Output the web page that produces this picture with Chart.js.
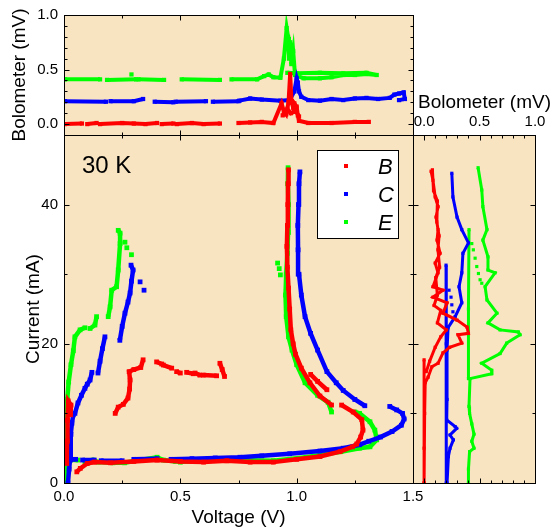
<!DOCTYPE html>
<html>
<head>
<meta charset="utf-8">
<script src="https://cdn.jsdelivr.net/npm/chart.js@4.4.1/dist/chart.umd.min.js"></script>
<style>
  body { margin: 0; background: #fff; }
  #wrap { position: relative; width: 558px; height: 531px; }
  canvas { position: absolute; left: 0; top: 0; }
</style>
</head>
<body>
<div id="wrap">
  <canvas id="topChart" width="558" height="531"></canvas>
  <canvas id="mainChart" width="558" height="531"></canvas>
  <canvas id="sideChart" width="558" height="531"></canvas>
</div>
<script>
// samples
const sampleNames = ['B', 'C', 'E'];

// main panel: voltage (V), current (mA); null = gap in the trace
const ivB = [
  [0.012, 2.8], [0.013, 6.0], [0.015, 9.0], [0.018, 11.8], [0.03, 11.2], [0.028, 9.8], null,
  [0.055, 1.6], [0.07, 2.1], [0.1, 2.8], [0.13, 3.0], [0.2, 2.9], [0.3, 3.1], [0.4, 3.3], [0.5, 3.1],
  [0.6, 3.0], [0.7, 3.2], [0.8, 3.0], [0.9, 3.0], [1.0, 3.4], [1.1, 3.8], [1.186, 4.5], [1.24, 5.2],
  [1.258, 5.6], [1.275, 6.6], [1.285, 7.6], [1.28, 9.1], [1.243, 10.2], [1.193, 11.2], null,
  [1.15, 11.2], [1.10, 12.5], [1.057, 14.4], [1.02, 16.5], [0.995, 18.5], [0.985, 20.0], [0.975, 22.0],
  [0.97, 25.0], [0.965, 28.0], [0.96, 31.0], [0.958, 34.0], [0.96, 37.0], [0.962, 40.0], [0.963, 43.0], [0.965, 45.0], null,
  [1.13, 13.4], [1.09, 14.6], [1.06, 15.6], null,
  [0.22, 10.0], [0.233, 10.9], [0.255, 11.3], [0.275, 12.2], [0.282, 13.5], [0.284, 14.8], [0.28, 16.0],
  [0.3, 16.3], [0.33, 16.6], [0.34, 17.7], null,
  [0.398, 17.4], [0.42, 17.1], null, [0.427, 16.95], [0.463, 16.5], null, [0.484, 16.0], [0.5, 15.8], null,
  [0.527, 15.9], [0.556, 15.7], null, [0.563, 15.8], [0.584, 15.5], null, [0.599, 15.5], [0.656, 15.4], null,
  [0.67, 17.2], [0.68, 16.3], [0.69, 15.3]
];
const ivC = [
  [0.017, 0.0], [0.022, 2.0], [0.026, 3.3], [0.028, 5.0], [0.03, 7.0], [0.034, 8.6], [0.04, 9.8], null,
  [0.047, 10.0], [0.06, 11.5], [0.075, 12.6], [0.09, 13.6], [0.1, 14.2], [0.112, 14.8], [0.12, 15.9], null,
  [0.146, 15.8], [0.155, 17.5], [0.165, 19.3], [0.176, 21.0], null,
  [0.24, 20.5], [0.25, 22.5], [0.262, 24.4], [0.275, 26.0], [0.284, 27.3], [0.29, 29.0], [0.297, 30.6], [0.288, 31.3], null,
  [0.327, 28.9], null, [0.344, 27.7], null,
  [0.01, 3.4], [0.05, 3.4], null, [0.08, 3.3], [0.13, 3.3], null, [0.16, 3.2], [0.25, 3.2], null, [0.3, 3.4], [0.4, 3.5], null,
  [0.46, 3.4], [0.55, 3.5], [0.65, 3.6], [0.756, 3.7], [0.85, 3.9], [0.97, 4.2], [1.1, 4.6], [1.2, 5.0],
  [1.27, 5.5], [1.31, 6.0], [1.36, 6.6], [1.41, 7.4], [1.45, 8.3], [1.462, 9.2], [1.455, 10.0], [1.43, 10.5], [1.40, 11.0], null,
  [1.293, 11.1], [1.25, 12.0], [1.2, 13.3], [1.17, 14.4], [1.13, 16.0], [1.09, 19.1], [1.06, 21.5], [1.036, 23.9],
  [1.02, 27.0], [1.01, 30.0], [1.006, 33.5], [1.005, 37.0], [1.008, 40.0], [1.01, 43.0], [1.014, 44.7]
];
const ivE = [
  [0.005, 0.0], [0.008, 3.0], [0.01, 6.0], [0.012, 9.0], [0.014, 12.0], [0.02, 14.5], [0.03, 17.0], [0.04, 19.0],
  [0.047, 21.0], [0.069, 22.0], [0.09, 22.3], null,
  [0.112, 22.2], [0.133, 22.7], [0.14, 23.9], null,
  [0.19, 23.9], [0.198, 25.3], [0.205, 27.7], [0.226, 28.2], [0.233, 30.6], [0.241, 34.4], [0.241, 35.9], [0.233, 36.3], null,
  [0.262, 34.6], null, [0.27, 33.8], null, [0.29, 32.8], null,
  [0.02, 3.3], [0.06, 3.3], null,
  [0.09, 3.0], [0.125, 3.3], [0.147, 3.0], [0.21, 2.9], [0.26, 2.9], [0.327, 3.3], [0.4, 3.7], [0.427, 3.3], [0.48, 3.1], null,
  [0.5, 3.0], [0.614, 3.3], [0.68, 3.3], null, [0.727, 3.3], [0.9, 3.2], [1.04, 3.7], [1.19, 4.5], [1.27, 5.0],
  [1.315, 5.2], [1.344, 6.2], [1.336, 7.6], [1.315, 8.8], [1.27, 10.0], [1.25, 10.2], null,
  [1.15, 10.2], [1.135, 11.6], [1.09, 12.6], [1.036, 14.4], [1.0, 17.0], [0.98, 19.1], [0.965, 21.0], [0.955, 23.9],
  [0.952, 27.0], [0.955, 30.0], [0.96, 33.0], [0.963, 36.0], [0.965, 40.0], [0.962, 43.0], [0.963, 45.3], null,
  [0.918, 31.6], null, [0.925, 30.8], null, [0.93, 29.9]
];

// top panel: voltage (V), bolometer (mV)
const bvB = [
  [0.004, 0.0], [0.077, 0.005], null, [0.1, 0.0], [0.14, 0.01], null, [0.155, 0.0], [0.25, 0.01], [0.3, 0.005],
  [0.35, 0.0], [0.4, 0.01], null, [0.42, 0.0], [0.47, 0.005], null, [0.485, 0.0], [0.55, 0.01], [0.6, 0.0], [0.67, 0.005], null,
  [0.75, 0.01], [0.8, 0.015], [0.85, 0.02], [0.9, 0.01], [0.935, 0.19], [0.945, 0.12], [0.955, 0.09], [0.965, 0.2],
  [0.972, 0.46], [0.978, 0.2], [0.985, 0.15], [0.99, 0.19], [1.0, 0.16], [1.005, 0.08], [1.01, 0.03], [1.05, 0.01],
  [1.15, 0.01], [1.25, 0.02], [1.31, 0.02], null,
  [0.94, 0.08], [0.96, 0.14], [0.975, 0.1], [0.995, 0.12], [1.01, 0.07]
];
const bvC = [
  [0.004, 0.21], [0.18, 0.205], null, [0.2, 0.21], [0.3, 0.21], [0.34, 0.23], null, [0.39, 0.205], [0.47, 0.2], null,
  [0.48, 0.205], [0.61, 0.21], null, [0.64, 0.205], [0.75, 0.21], null,
  [0.754, 0.215], [0.8, 0.235], [0.85, 0.225], [0.93, 0.215], [0.97, 0.22], [0.99, 0.3], [1.0, 0.42], [1.005, 0.38],
  [1.01, 0.3], [1.02, 0.25], [1.05, 0.22], [1.1, 0.215], [1.15, 0.23], [1.2, 0.22], [1.25, 0.235], [1.3, 0.24],
  [1.35, 0.23], [1.4, 0.24], [1.42, 0.27], [1.44, 0.28], [1.46, 0.29], [1.465, 0.23], [1.44, 0.22]
];
const bvE = [
  [0.004, 0.41], [0.155, 0.41], null, [0.185, 0.405], [0.31, 0.41], null, [0.29, 0.455], null, [0.32, 0.41], [0.43, 0.405], null,
  [0.506, 0.41], [0.67, 0.405], null,
  [0.72, 0.41], [0.83, 0.41], [0.86, 0.44], [0.88, 0.455], [0.9, 0.43], [0.93, 0.425], [0.945, 0.6], [0.957, 0.88],
  [0.963, 0.8], [0.967, 0.6], [0.972, 0.75], [0.977, 0.55], [0.985, 0.67], [0.993, 0.45], [1.03, 0.42], [1.1, 0.42],
  [1.15, 0.43], [1.2, 0.45], [1.25, 0.45], [1.3, 0.46], [1.344, 0.45], [1.3, 0.47], [1.2, 0.465], [1.1, 0.47],
  [1.0, 0.465], [0.96, 0.47]
];

// side panel: bolometer (mV), current (mA)
const biB = [
  [0.063, 44.8], [0.08, 43.5], [0.1, 41.1], [0.126, 39.7], [0.108, 38.2], [0.126, 36.4], [0.117, 34.9], [0.144, 33.0],
  [0.1, 31.6], [0.126, 30.2], [0.08, 28.2], [0.17, 27.7], [0.08, 26.7], [0.207, 25.9], [0.17, 24.4], [0.297, 23.4],
  [0.387, 22.4], [0.4, 21.5], [0.306, 21.3], [0.34, 20.1], [0.23, 19.5], [0.17, 18.7], [0.126, 17.2], [0.07, 16.7],
  [0.036, 15.2], [0.01, 14.4], [0.005, 10.0], [0.0, 5.0], [0.0, 0.0], null,
  [0.075, 45.0], [0.085, 42.0], [0.12, 40.5], [0.115, 37.5], [0.135, 35.5], [0.125, 33.5], [0.14, 31.0], [0.105, 29.5],
  [0.12, 27.0], [0.09, 25.5], [0.15, 24.8], [0.12, 23.0], [0.2, 22.0], [0.15, 21.0], [0.1, 19.5], [0.05, 17.5], [0.02, 16.0], null,
  [0.0, 17.7], [0.0, 0.0]
];
const biC = [
  [0.25, 44.5], [0.26, 41.1], [0.297, 38.2], [0.34, 36.4], [0.4, 34.5], [0.35, 33.0], [0.34, 30.2], [0.315, 28.2],
  [0.34, 25.9], [0.28, 23.9], [0.216, 22.3], [0.207, 19.1], [0.207, 12.0], [0.204, 9.05], [0.28, 8.1], [0.294, 7.85],
  [0.234, 6.9], [0.264, 6.2], [0.234, 5.0], [0.219, 3.8], [0.207, 0.0], null,
  [0.198, 31.3], [0.2, 20.0], [0.2, 0.0], null,
  [0.225, 27.7], null, [0.243, 26.7], null, [0.25, 25.6], null, [0.26, 24.6]
];
const biE = [
  [0.487, 45.3], [0.52, 42.1], [0.53, 39.7], [0.567, 36.4], [0.53, 34.9], [0.576, 32.5], [0.576, 30.6], [0.64, 30.2],
  [0.55, 28.2], [0.567, 26.3], [0.657, 24.4], [0.576, 23.0], [0.685, 22.0], [0.85, 21.7], [0.865, 21.3], [0.745, 20.1],
  [0.685, 18.6], [0.52, 17.2], [0.61, 16.2], [0.61, 15.7], [0.414, 15.0], [0.405, 11.0], [0.41, 10.0], [0.43, 8.5],
  [0.45, 7.0], [0.43, 6.0], [0.45, 5.0], [0.41, 4.5], [0.4, 2.0], [0.4, 0.0], null,
  [0.405, 36.4], [0.4, 25.0], [0.4, 15.0], null,
  [0.43, 34.4], null, [0.444, 33.5], null, [0.46, 32.3], null, [0.475, 31.1], null, [0.49, 30.1], null, [0.505, 29.2], null, [0.52, 28.7]
];

// axis ticks
const voltTicks = [0, 0.5, 1.0, 1.5];
const currentTicks = [0, 20, 40];
const boloTicks = [0, 0.5, 1.0];

const colors = ['#ff0000', '#0000ff', '#00ff00'];
const panelColor = '#f8e4c1';
const fontFamily = '"Liberation Sans", Arial, sans-serif';

Chart.defaults.font.family = fontFamily;
Chart.defaults.color = '#000';

function toPoints(pairs) {
  return pairs.map(p => p ? { x: p[0], y: p[1] } : { x: null, y: null });
}

function makeDatasets(groups, width) {
  return groups.map((pairs, i) => ({
    label: sampleNames[i],
    data: toPoints(pairs),
    showLine: true,
    spanGaps: false,
    borderColor: colors[i],
    backgroundColor: colors[i],
    borderWidth: width,
    pointRadius: width * 0.75,
    pointStyle: 'rect',
    pointBorderWidth: 0,
    pointBackgroundColor: colors[i]
  }));
}

// panel background, frame and inward ticks
const framePlugin = {
  id: 'frame',
  beforeDraw(chart) {
    const { ctx, chartArea: a } = chart;
    ctx.save();
    ctx.fillStyle = panelColor;
    ctx.fillRect(a.left, a.top, a.right - a.left, a.bottom - a.top);
    ctx.restore();
  },
  afterDatasetsDraw(chart, args, opts) {
    const { ctx, chartArea: a, scales } = chart;
    const L = Math.round(a.left) + 0.5, R = Math.round(a.right) + 0.5;
    const T = Math.round(a.top) + 0.5, B = Math.round(a.bottom) + 0.5;
    ctx.save();
    ctx.strokeStyle = '#000';
    ctx.lineWidth = 1;
    ctx.strokeRect(L, T, R - L, B - T);
    ctx.beginPath();
    const marks = (scale, cfg, cb) => {
      const k0 = Math.ceil(scale.min / cfg.minor - 1e-6);
      const k1 = Math.floor(scale.max / cfg.minor + 1e-6);
      for (let k = k0; k <= k1; k++) {
        const v = k * cfg.minor;
        const major = Math.abs(v / cfg.major - Math.round(v / cfg.major)) < 1e-6;
        cb(Math.round(scale.getPixelForValue(v)) + 0.5, major ? 5 : 3);
      }
    };
    marks(scales.x, opts.x, (p, len) => {
      ctx.moveTo(p, B); ctx.lineTo(p, B - len);
      ctx.moveTo(p, T); ctx.lineTo(p, T + len);
    });
    marks(scales.y, opts.y, (p, len) => {
      ctx.moveTo(L, p); ctx.lineTo(L + len, p);
      ctx.moveTo(R, p); ctx.lineTo(R - len, p);
    });
    ctx.stroke();
    ctx.restore();
  }
};

// legend box and free text
const notesPlugin = {
  id: 'notes',
  afterDraw(chart, args, opts) {
    const { ctx, chartArea: a } = chart;
    ctx.save();
    (opts.texts || []).forEach(t => {
      ctx.font = t.font;
      ctx.fillStyle = '#000';
      ctx.textAlign = 'left';
      ctx.textBaseline = 'alphabetic';
      ctx.fillText(t.text, a.left + t.dx, a.top + t.dy);
    });
    if (opts.legend) {
      const bx = a.right - 96, by = a.top + 15;
      ctx.fillStyle = '#fff';
      ctx.fillRect(bx, by, 81, 88);
      ctx.strokeStyle = '#000';
      ctx.lineWidth = 1;
      ctx.strokeRect(bx + 0.5, by + 0.5, 81, 88);
      chart.data.datasets.forEach((ds, i) => {
        const y = by + 16 + i * 28;
        ctx.fillStyle = ds.borderColor;
        ctx.fillRect(bx + 27, y - 2, 4, 4);
        ctx.fillStyle = '#000';
        ctx.font = 'italic 22px ' + fontFamily;
        ctx.textBaseline = 'alphabetic';
        ctx.fillText(ds.label, bx + 61, y + 8);
      });
    }
    ctx.restore();
  }
};

const tickFont = { size: 15 };
const titleFont = { size: 19 };

function fixTicks(values) {
  return scale => { scale.ticks = values.map(v => ({ value: v })); };
}

// top panel
new Chart(document.getElementById('topChart'), {
  type: 'scatter',
  data: { datasets: makeDatasets([bvB, bvC, bvE], 4) },
  options: {
    responsive: false, animation: false, events: [], devicePixelRatio: 1,
    layout: { padding: { left: 4, top: 14, right: 145, bottom: 396 } },
    scales: {
      x: { type: 'linear', min: 0, max: 1.5, display: false },
      y: {
        type: 'linear', min: -0.1, max: 1.0,
        grid: { display: false, drawTicks: false }, border: { display: false },
        afterBuildTicks: fixTicks(boloTicks),
        afterFit: s => { s.width = 60; },
        ticks: { font: tickFont, padding: 6, callback: v => v.toFixed(1) },
        title: { display: true, text: 'Bolometer (mV)', font: titleFont, padding: { top: 4, bottom: 0 } }
      }
    },
    plugins: {
      legend: { display: false }, tooltip: { enabled: false },
      frame: { x: { major: 0.5, minor: 0.25 }, y: { major: 0.5, minor: 0.1 } }
    }
  },
  plugins: [framePlugin]
});

// main panel
new Chart(document.getElementById('mainChart'), {
  type: 'scatter',
  data: { datasets: makeDatasets([ivB, ivC, ivE], 4.5) },
  options: {
    responsive: false, animation: false, events: [], devicePixelRatio: 1,
    layout: { padding: { left: 18, top: 135, right: 145, bottom: 0 } },
    scales: {
      x: {
        type: 'linear', min: 0, max: 1.5,
        grid: { display: false, drawTicks: false }, border: { display: false },
        afterBuildTicks: fixTicks(voltTicks),
        afterFit: s => { s.height = 48; },
        ticks: { font: tickFont, padding: 5, maxRotation: 0, callback: v => v.toFixed(1) },
        title: { display: true, text: 'Voltage (V)', font: titleFont, padding: { top: 0, bottom: 2 } }
      },
      y: {
        type: 'linear', min: 0, max: 50,
        grid: { display: false, drawTicks: false }, border: { display: false },
        afterBuildTicks: fixTicks(currentTicks),
        afterFit: s => { s.width = 46; },
        ticks: { font: tickFont, padding: 6 },
        title: { display: true, text: 'Current (mA)', font: titleFont, padding: { top: 4, bottom: 0 } }
      }
    },
    plugins: {
      legend: { display: false }, tooltip: { enabled: false },
      frame: { x: { major: 0.5, minor: 0.25 }, y: { major: 20, minor: 10 } },
      notes: { legend: true, texts: [{ text: '30 K', dx: 18, dy: 38, font: '24px ' + fontFamily }] }
    }
  },
  plugins: [framePlugin, notesPlugin]
});

// side panel
new Chart(document.getElementById('sideChart'), {
  type: 'scatter',
  data: { datasets: makeDatasets([biB, biC, biE], 3) },
  options: {
    responsive: false, animation: false, events: [], devicePixelRatio: 1,
    layout: { padding: { left: 413, top: 95, right: 23, bottom: 48 } },
    scales: {
      x: {
        type: 'linear', position: 'top', min: -0.1, max: 1.0,
        grid: { display: false, drawTicks: false }, border: { display: false },
        afterBuildTicks: fixTicks(boloTicks),
        afterFit: s => { s.height = 40; },
        ticks: { font: tickFont, padding: 4, maxRotation: 0, callback: v => v.toFixed(1) }
      },
      y: { type: 'linear', min: 0, max: 50, display: false }
    },
    plugins: {
      legend: { display: false }, tooltip: { enabled: false },
      frame: { x: { major: 0.5, minor: 0.1 }, y: { major: 20, minor: 10 } },
      notes: { texts: [{ text: 'Bolometer (mV)', dx: 5, dy: -27, font: '19px ' + fontFamily }] }
    }
  },
  plugins: [framePlugin, notesPlugin]
});
</script>
</body>
</html>
